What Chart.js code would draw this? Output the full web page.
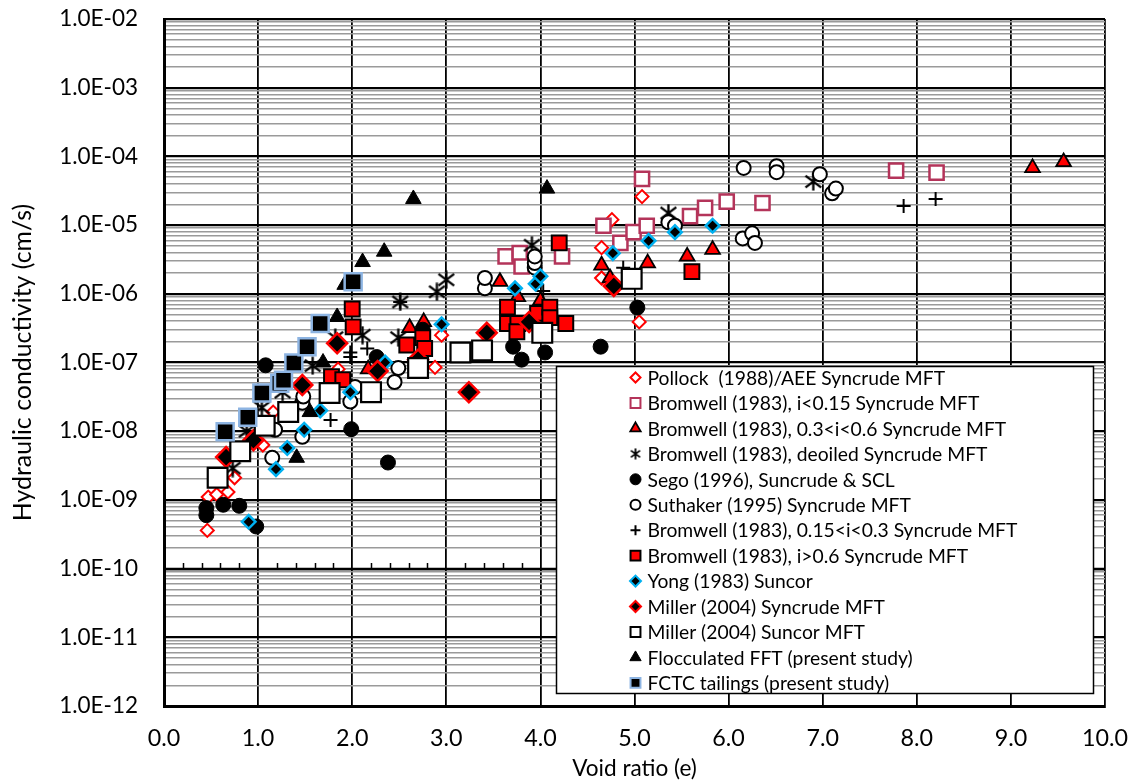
<!DOCTYPE html>
<html><head><meta charset="utf-8">
<script src="https://cdn.jsdelivr.net/npm/chart.js@4.4.0/dist/chart.umd.min.js"></script>
<style>html,body{margin:0;padding:0;background:#fff;}#wrap{width:1136px;height:783px;}</style>
</head><body><div id="wrap"><canvas id="c" width="1136" height="783"></canvas></div>
<script>
// ---------- DATA (void ratio e, hydraulic conductivity k in cm/s) ----------
const pollockE = [0.46,0.47,0.56,0.68,0.75,1.05,1.16,1.85,2.88,2.95,4.65,4.65,4.76,5.05,5.08];
const pollockK = [3.6e-10,1.1e-9,1.2e-9,1.3e-9,2.1e-9,6.3e-9,1.9e-8,8e-8,8.5e-8,2.5e-7,4.7e-6,1.7e-6,1.2e-5,3.9e-7,2.6e-5];

const bLowE = [3.63,3.78,3.80,4.23,4.67,4.85,4.99,5.13,5.08,5.59,5.75,5.98,6.36,7.78,8.21];
const bLowK = [3.5e-6,3.9e-6,2.5e-6,3.5e-6,9.8e-6,5.5e-6,7.9e-6,9.8e-6,4.7e-5,1.35e-5,1.78e-5,2.2e-5,2.1e-5,6.2e-5,5.8e-5];

const bMidE = [2.17,2.61,2.76,3.57,3.76,4.0,4.65,4.74,5.14,5.56,5.83,9.23,9.56];
const bMidK = [8e-8,3.2e-7,3.9e-7,1.5e-6,9e-7,8e-7,2.6e-6,1.7e-6,2.8e-6,3.5e-6,4.4e-6,6.8e-5,8.3e-5];

const deoilE = [0.73,0.88,1.04,1.26,1.58,1.82,2.11,2.49,2.51,2.90,3.00,3.91,5.36,6.90];
const deoilK = [2.9e-9,1e-8,2.2e-8,3.7e-8,9e-8,2.3e-7,2.5e-7,2.3e-7,7.6e-7,1.07e-6,1.6e-6,5.1e-6,1.5e-5,4.3e-5];

const segoE = [0.45,0.45,0.63,0.80,0.98,1.08,1.99,2.26,2.38,2.75,3.71,3.80,4.05,4.64,5.03];
const segoK = [7.6e-10,6e-10,8.5e-10,8.2e-10,4.1e-10,9.1e-8,1.07e-8,1.2e-7,3.5e-9,3e-7,1.7e-7,1.1e-7,1.4e-7,1.7e-7,6.3e-7];

const suthE = [1.15,1.18,1.47,1.47,1.48,1.98,2.03,2.45,2.49,3.41,3.41,3.94,3.94,3.94,5.36,5.43,6.15,6.16,6.25,6.28,6.51,6.51,6.97,7.10,7.14];
const suthK = [4.1e-9,1.05e-8,8.3e-9,2.6e-8,3.2e-8,2.7e-8,4.4e-8,5.2e-8,8.3e-8,1.2e-6,1.7e-6,2.4e-6,2.8e-6,3.5e-6,1.1e-5,9.8e-6,6.4e-6,6.8e-5,7.6e-6,5.5e-6,7.2e-5,5.9e-5,5.5e-5,2.9e-5,3.4e-5];

const bPlusE = [1.77,1.98,1.98,2.16,2.51,4.03,4.88,7.86,8.20];
const bPlusK = [1.45e-8,1.2e-7,1.4e-7,1.6e-7,7.6e-7,1.1e-6,2.4e-6,1.9e-5,2.4e-5];

const bHighE = [1.78,1.90,2.00,2.01,2.58,2.75,2.77,3.65,3.65,3.76,3.75,3.97,4.10,4.10,4.27,4.20,5.61];
const bHighK = [6.2e-8,5.6e-8,6e-7,3.3e-7,1.8e-7,2.3e-7,1.6e-7,6.4e-7,3.7e-7,3.7e-7,2.8e-7,5.2e-7,6.4e-7,4.5e-7,3.7e-7,5.5e-6,2.1e-6];

const yongE = [0.90,1.19,1.31,1.49,1.66,1.98,2.35,2.95,3.73,3.95,4.00,4.77,5.15,5.43,5.83];
const yongK = [4.8e-10,2.8e-9,5.7e-9,1.05e-8,2.0e-8,3.7e-8,1.0e-7,3.6e-7,1.2e-6,1.4e-6,1.8e-6,3.9e-6,5.9e-6,7.9e-6,9.8e-6];

const millSynE = [0.66,0.95,1.47,1.84,2.27,2.70,3.24,3.43,3.88,4.78];
const millSynK = [4.2e-9,7.4e-9,4.7e-8,1.9e-7,7.5e-8,1.1e-7,3.7e-8,2.7e-7,3.9e-7,1.3e-6];

const millSunE = [0.57,0.81,1.07,1.32,1.76,2.20,2.70,3.15,3.38,4.02,4.97];
const millSunK = [2.1e-9,5.1e-9,1.2e-8,1.9e-8,3.6e-8,3.7e-8,8.3e-8,1.4e-7,1.5e-7,2.7e-7,1.65e-6];

const floccE = [1.41,1.55,1.69,1.84,1.92,2.11,2.34,2.65,4.07];
const floccK = [4.1e-9,1.9e-8,1.0e-7,4.6e-7,1.35e-6,2.9e-6,4.1e-6,2.4e-5,3.4e-5];

const fctcE = [0.65,0.89,1.04,1.23,1.27,1.38,1.52,1.66,2.01];
const fctcK = [9.8e-9,1.6e-8,3.6e-8,5e-8,5.5e-8,9.8e-8,1.7e-7,3.7e-7,1.5e-6];

const seriesLabels = [
  'Pollock  (1988)/AEE Syncrude MFT',
  'Bromwell (1983), i<0.15 Syncrude MFT',
  'Bromwell (1983), 0.3<i<0.6 Syncrude MFT',
  'Bromwell (1983), deoiled Syncrude MFT',
  'Sego (1996), Suncrude & SCL',
  'Suthaker (1995) Syncrude MFT',
  'Bromwell (1983), 0.15<i<0.3 Syncrude MFT',
  'Bromwell (1983), i>0.6 Syncrude MFT',
  'Yong (1983) Suncor',
  'Miller (2004) Syncrude MFT',
  'Miller (2004) Suncor MFT',
  'Flocculated FFT (present study)',
  'FCTC tailings (present study)'
];
const xTickValues = [0,1,2,3,4,5,6,7,8,9,10];
const yDecades = [-12,-11,-10,-9,-8,-7,-6,-5,-4,-3,-2];

// ---------- helpers ----------
const FONT = 'Lato, "Open Sans", sans-serif';
const mctx = document.createElement('canvas').getContext('2d');
function sizeFor(text, target){ mctx.font = '100px ' + FONT; return Math.round(1000*target/mctx.measureText(text).width)/10; }
const tickSize = sizeFor('1.0E-02', 79);
const xTickSize = sizeFor('10.0', 46);
const legSize = sizeFor('Suthaker (1995) Syncrude MFT', 263);
const xTitleSize = sizeFor('Void ratio (e)', 125);
const yTitleSize = sizeFor('Hydraulic conductivity (cm/s)', 318);

function pts(e,k){ return e.map((x,i)=>({x:x,y:k[i]})); }
function asterisk(size, lw){
  const c=document.createElement('canvas'); c.width=size; c.height=size;
  const g=c.getContext('2d'); g.strokeStyle='#000'; g.lineWidth=lw; g.lineCap='butt';
  const m=lw/2+0.5, s=size;
  g.beginPath();
  g.moveTo(m,m+s*0.1); g.lineTo(s-m,s-m-s*0.1);
  g.moveTo(s-m,m+s*0.1); g.lineTo(m,s-m-s*0.1);
  g.moveTo(s/2,0.5); g.lineTo(s/2,s-0.5);
  g.stroke();
  return c;
}
const astBig = asterisk(19,2.3);
const astSmall = asterisk(12,1.8);

const styles = [
  {e:pollockE,k:pollockK, ps:'rectRot', r:6.5, bg:'#ffffff', bc:'#ff0000', bw:2, lr:5},
  {e:bLowE,k:bLowK, ps:'rect', r:10, bg:'#ffffff', bc:'#b4345a', bw:2.5, lr:7},
  {e:bMidE,k:bMidK, ps:'triangle', r:8.5, bg:'#ff0000', bc:'#000000', bw:1.8, lr:6},
  {e:deoilE,k:deoilK, ps:astBig, r:8, bg:'#000', bc:'#000', bw:1, lr:5, lps:astSmall},
  {e:segoE,k:segoK, ps:'circle', r:7.5, bg:'#000000', bc:'#000000', bw:1, lr:5.5},
  {e:suthE,k:suthK, ps:'circle', r:7, bg:'#ffffff', bc:'#000000', bw:2, lr:5},
  {e:bPlusE,k:bPlusK, ps:'cross', r:7, bg:'#000', bc:'#000000', bw:2, lr:5},
  {e:bHighE,k:bHighK, ps:'rect', r:10.5, bg:'#ff0000', bc:'#000000', bw:2, lr:7},
  {e:yongE,k:yongK, ps:'rectRot', r:6.8, bg:'#000000', bc:'#00b0f0', bw:2.5, lr:5.5},
  {e:millSynE,k:millSynK, ps:'rectRot', r:10, bg:'#000000', bc:'#ff0000', bw:2.5, lr:5.5},
  {e:millSunE,k:millSunK, ps:'rect', r:14, bg:'#ffffff', bc:'#000000', bw:2.2, lr:7},
  {e:floccE,k:floccK, ps:'triangle', r:9, bg:'#000000', bc:'#000000', bw:1, lr:6.5},
  {e:fctcE,k:fctcK, ps:'rect', r:12, bg:'#000000', bc:'#8db4e2', bw:2.5, lr:7}
];

const n = styles.length;
const datasets = styles.map((s,i)=>({
  label: seriesLabels[i],
  data: pts(s.e,s.k),
  pointStyle: s.ps,
  pointRadius: s.r,
  pointHoverRadius: s.r,
  pointBackgroundColor: s.bg,
  pointBorderColor: s.bc,
  pointBorderWidth: s.bw,
  showLine:false,
  order: n - i
}));

function fmtExp(v){
  const ex = Math.round(Math.log10(v));
  const sign = ex<0?'-':'+';
  const a = Math.abs(ex);
  return '1.0E' + sign + (a<10?'0':'') + a;
}
function isMajor(v){ const l=Math.log10(v); return Math.abs(l-Math.round(l))<1e-6; }

const axisPlugin = {
  id:'crossAxis',
  beforeDatasetsDraw(chart){
    const ctx=chart.ctx, xs=chart.scales.x, ys=chart.scales.y, ca=chart.chartArea;
    const py = Math.round(ys.getPixelForValue(1e-10));
    ctx.save();
    ctx.strokeStyle='#000'; ctx.lineWidth=2.5;
    ctx.beginPath(); ctx.moveTo(ca.left,py); ctx.lineTo(ca.right,py); ctx.stroke();
    ctx.lineWidth=1.5;
    ctx.beginPath();
    for(let t=0;t<=50;t++){
      if(t%5===0) continue;
      const px = Math.round(xs.getPixelForValue(t*0.2))+0.5;
      ctx.moveTo(px,py); ctx.lineTo(px,py-6);
    }
    ctx.stroke();
    ctx.restore();
  }
};

function drawMarker(ctx, s, x, y){
  const opts = {pointStyle: s.lps || s.ps, radius: s.lr, rotation:0, borderWidth: Math.min(s.bw,2)};
  ctx.save();
  ctx.fillStyle=s.bg; ctx.strokeStyle=s.bc; ctx.lineWidth=opts.borderWidth;
  if (Chart.helpers && Chart.helpers.drawPoint) {
    Chart.helpers.drawPoint(ctx, opts, x, y);
  } else if (typeof opts.pointStyle !== 'string') {
    const im=opts.pointStyle; ctx.drawImage(im, x-im.width/2, y-im.height/2);
  } else {
    ctx.beginPath(); ctx.arc(x,y,s.lr,0,Math.PI*2); ctx.fill(); ctx.stroke();
  }
  ctx.restore();
}

const legendPlugin = {
  id:'boxLegend',
  afterDraw(chart){
    const ctx=chart.ctx, ca=chart.chartArea;
    const w=ca.right-ca.left, h=ca.bottom-ca.top;
    const L = Math.round(ca.left + 0.4166*w)+0.5, T = Math.round(ca.top + 0.505*h)+0.5;
    const R = Math.round(ca.left + 0.987*w)+0.5, B = Math.round(ca.top + 0.981*h)+0.5;
    ctx.save();
    ctx.fillStyle='#fff'; ctx.fillRect(L,T,R-L,B-T);
    ctx.strokeStyle='#000'; ctx.lineWidth=1.5; ctx.strokeRect(L,T,R-L,B-T);
    const step = (B-T)/12.85;
    ctx.font = legSize + 'px ' + FONT;
    ctx.textBaseline='middle'; ctx.textAlign='left'; ctx.fillStyle='#000';
    styles.forEach((s,i)=>{
      const yy = T + 11 + i*step;
      drawMarker(ctx, s, L+79, yy);
      ctx.fillStyle='#000';
      ctx.fillText(seriesLabels[i], L+91, yy+1);
    });
    ctx.restore();
  }
};

new Chart(document.getElementById('c'), {
  type:'scatter',
  data:{datasets},
  plugins:[axisPlugin, legendPlugin],
  options:{
    responsive:false, animation:false, devicePixelRatio:1,
    layout:{padding:{top:19,right:31,left:0,bottom:0}},
    plugins:{legend:{display:false}, tooltip:{enabled:false}},
    scales:{
      x:{
        type:'linear', min:0, max:10,
        afterBuildTicks(s){ s.ticks = xTickValues.map(v=>({value:v})); },
        afterFit(s){ s.height = 77; s.paddingLeft = 0; s.paddingRight = 0; },
        ticks:{ callback:v=>Number(v).toFixed(1), color:'#000', font:{family:FONT,size:xTickSize}, padding:18, autoSkip:false, maxRotation:0 },
        grid:{ color:'#000', lineWidth:1.8, drawTicks:false },
        border:{ display:true, color:'#000', width:3 },
        title:{ display:true, text:'Void ratio (e)', color:'#000', font:{family:FONT,size:xTitleSize}, padding:{top:0,bottom:1} }
      },
      y:{
        type:'logarithmic', min:1e-12, max:1e-2,
        afterBuildTicks(s){
          const t=[];
          yDecades.forEach(d=>{
            if(d===-2){ t.push({value:Math.pow(10,d)}); return; }
            for(let m=1;m<=9;m++) t.push({value: m*Math.pow(10,d)});
          });
          s.ticks=t;
        },
        afterFit(s){ s.width = 164; s.paddingTop = 0; s.paddingBottom = 0; },
        ticks:{ callback:v=> isMajor(v)? fmtExp(v) : '', color:'#000', font:{family:FONT,size:tickSize}, padding:26, autoSkip:false },
        grid:{
          drawTicks:false,
          color:c=> (c.tick && isMajor(c.tick.value)) ? '#000' : '#9a9a9a',
          lineWidth:c=> (c.tick && isMajor(c.tick.value)) ? 2.2 : 1.5
        },
        border:{ display:true, color:'#000', width:3 },
        title:{ display:true, text:'Hydraulic conductivity (cm/s)', color:'#000', font:{family:FONT,size:yTitleSize}, padding:{top:8,bottom:0} }
      }
    }
  }
});
</script>
</body></html>
